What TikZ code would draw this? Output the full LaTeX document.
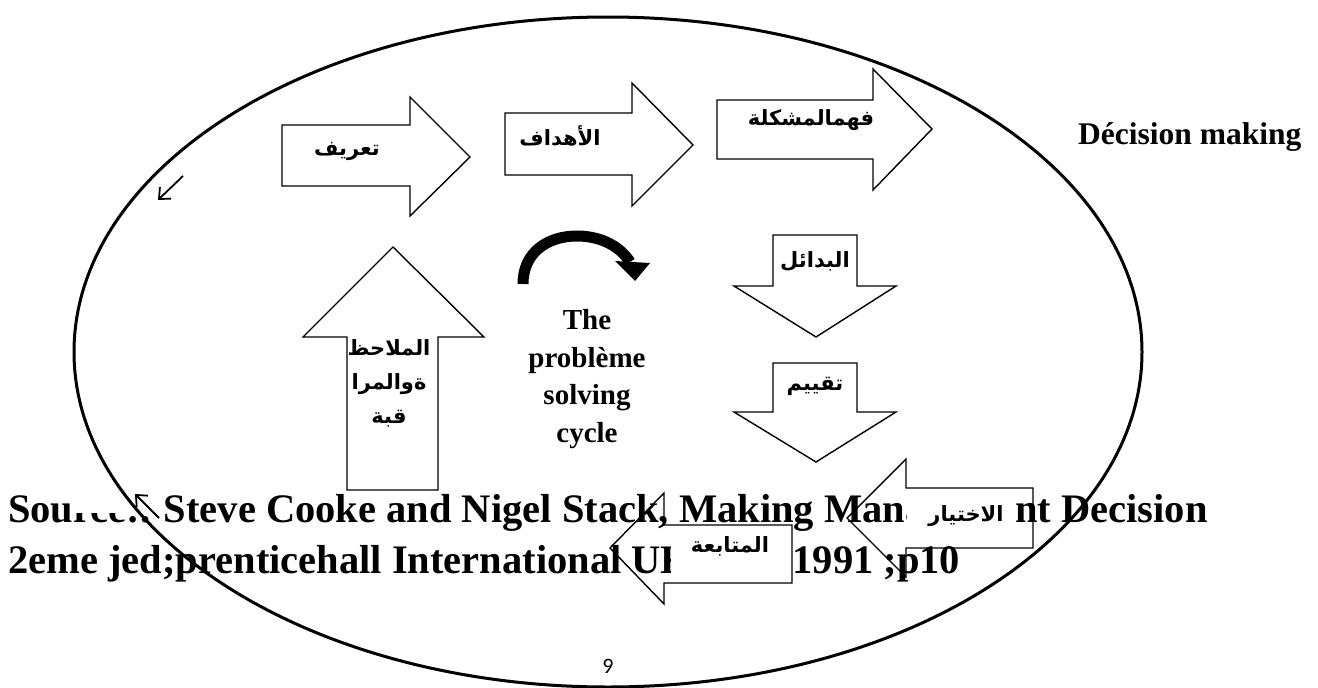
\documentclass[tikz,border=0pt]{standalone}
\usepackage{fontspec}
\usetikzlibrary{arrows.meta}
\setmainfont{Liberation Serif}
\newfontfamily\arabicfont[Script=Arabic]{DejaVu Sans}
\newfontfamily\pagenumfont{Carlito}
\TeXXeTstate=1
\begin{document}
\begin{tikzpicture}[x=1pt,y=-1pt,
  blockarrow/.style={draw=black,line width=1.4pt,line join=miter},
  artext/.style={font=\arabicfont\bfseries\fontsize{21}{34}\selectfont,inner sep=0pt,align=center},
  coverlabel/.style={artext,fill=white,minimum height=55pt},
  lbl/.style={font=\bfseries\fontsize{29}{37.5}\selectfont,inner sep=0pt,align=center},
  src/.style={font=\bfseries\fontsize{40.5}{51}\selectfont,inner sep=0pt,anchor=base west},
  thinarrow/.style={line width=1.8pt,-{Straight Barb[length=9pt,width=16pt]}},
]
\useasboundingbox[fill=white] (0,0) rectangle (1318,688);

% source text
\node[src] (src1) at (8,522) {Source:. Steve Cooke and Nigel Stack, Making Management Decision};
\node[src] (src2) at (8,573) {2eme jed;prenticehall International UK\hspace{100pt}1991 ;p10};
% white cover over part of "Source"
\fill[white] (74,489) rectangle (150,513);

% block arrows
\draw[blockarrow] (282,125) -- (410,125) -- (410,97) -- (470,157) -- (410,216) -- (410,186) -- (282,186) -- cycle;
\draw[blockarrow] (505,113) -- (632,113) -- (632,83) -- (693,145) -- (632,206) -- (632,175) -- (505,175) -- cycle;
\draw[blockarrow] (717,100) -- (873,100) -- (873,69) -- (932,129) -- (873,190) -- (873,159) -- (717,159) -- cycle;
\draw[blockarrow] (773,235) -- (857,235) -- (857,286) -- (896,286) -- (816,337) -- (734,286) -- (773,286) -- cycle;
\draw[blockarrow] (773,363) -- (857,363) -- (857,412) -- (896,412) -- (816,462) -- (734,412) -- (773,412) -- cycle;
\draw[blockarrow] (347,490) -- (347,337) -- (303,337) -- (393,247) -- (484,337) -- (438,337) -- (438,490) -- cycle;
\draw[blockarrow] (1033,488) -- (906,488) -- (906,459) -- (847,518) -- (906,577) -- (906,548) -- (1033,548) -- cycle;
\draw[blockarrow] (792,525) -- (664,525) -- (664,493) -- (610,548) -- (664,604) -- (664,583) -- (792,583) -- cycle;

% ellipse
\draw[line width=3pt] (608,352) ellipse [x radius=534pt, y radius=335pt];

% arabic labels
\node[artext] (tarif) at (347,151) {\beginR تعريف\endR};
\node[artext] (ahdaf) at (560,136) {\beginR الأهداف\endR};
\node[artext] (fahm) at (811,120) {\beginR فهمالمشكلة\endR};
\node[artext] (badail) at (815,261) {\beginR البدائل\endR};
\node[artext] (taqyim) at (815,386) {\beginR تقييم\endR};
\node[coverlabel,minimum width=108pt] (ikhtiyar) at (961,518) {\hspace{10pt}\raisebox{9pt}{\beginR الاختيار\endR}};
\node[coverlabel,minimum width=118pt] (mutaba) at (730,554) {\raisebox{18pt}{\beginR المتابعة\endR}};
\node[artext] (mulahaza) at (389,383) {\beginR الملاحظ\endR\\\beginR ةوالمرا\endR\\\beginR قبة\endR};

% centre label and title
\node[lbl] (cycle) at (587,379) {The\\problème\\solving\\cycle};
\node[font=\bfseries\fontsize{31.5}{36}\selectfont,inner sep=0pt,anchor=base west] (title) at (1078,144) {Décision making};

% curved thick arrow
\draw[line width=11pt] (523,284) .. controls (523,252) and (548,236) .. (577,236) .. controls (604,236) and (622,249) .. (630,262);
\fill (615,261) -- (650,263) -- (635,281) -- cycle;

% small thin arrows
\coordinate (a1s) at (183,176);
\coordinate (a1e) at (158,200);
\draw[thinarrow] (a1s) -- (a1e);
\coordinate (a2s) at (159,518);
\coordinate (a2e) at (135,494);
\draw[thinarrow] (a2s) -- (a2e);

% page number
\node[fill=white,inner xsep=38pt,inner ysep=6pt,font=\pagenumfont\fontsize{22}{24}\selectfont] (pg) at (608,666) {9};
\end{tikzpicture}
\end{document}
